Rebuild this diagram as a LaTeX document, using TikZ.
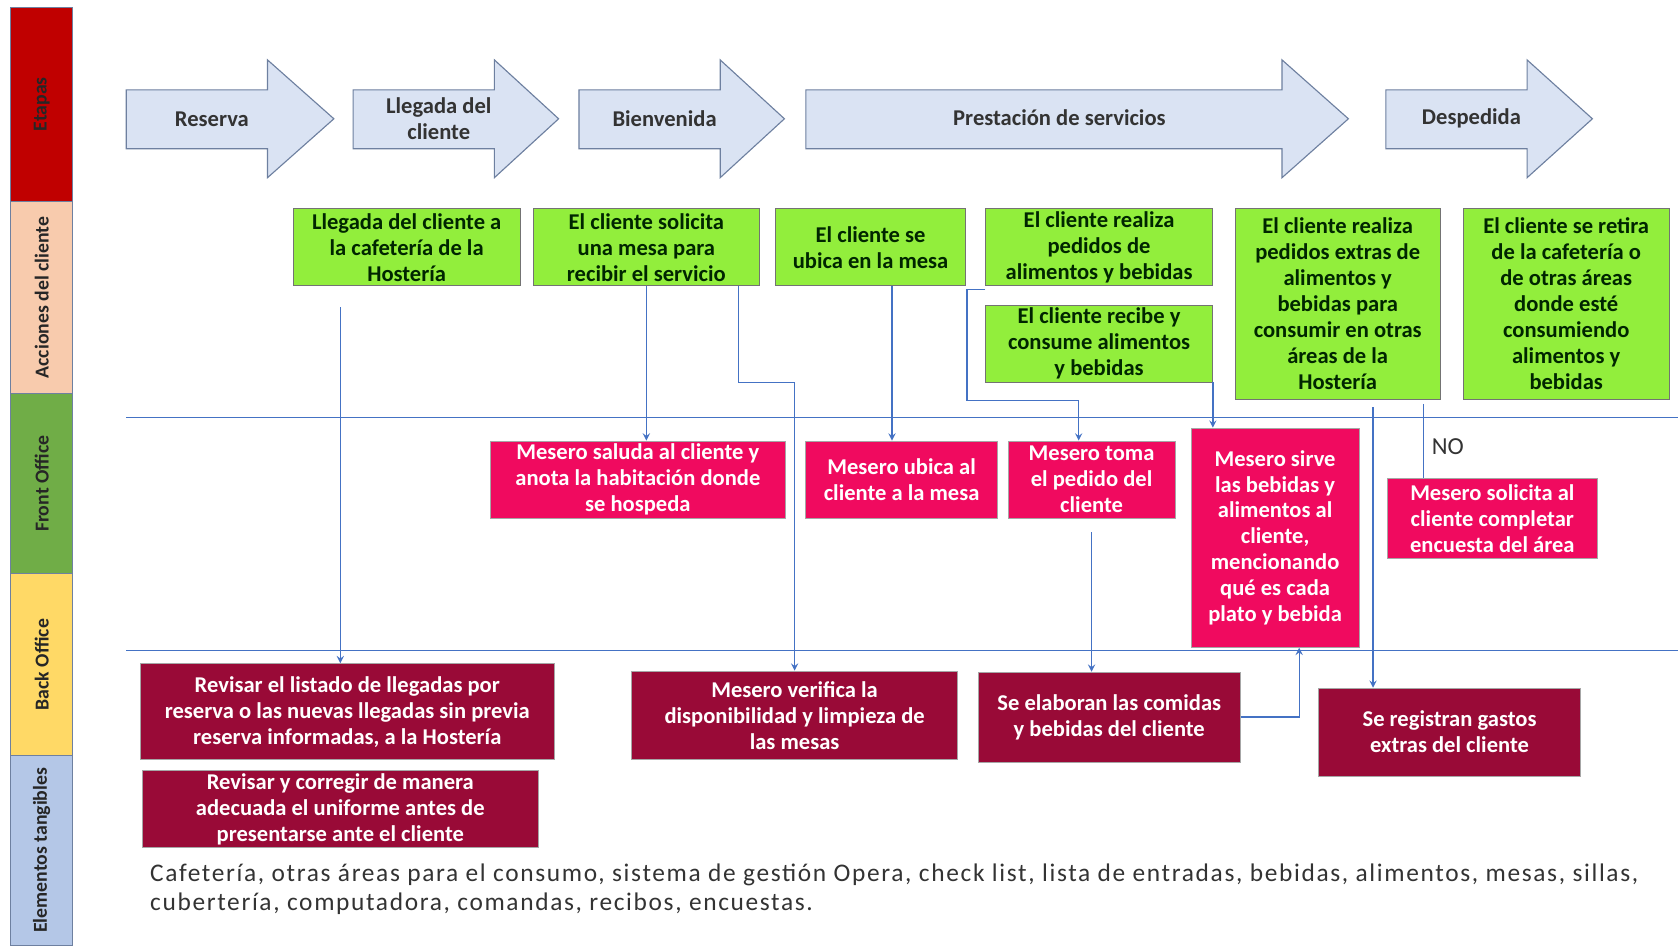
\documentclass[tikz,border=0pt]{standalone}
\usepackage{fontspec}
\setmainfont{Carlito}
\newfontfamily\tangfont[LetterSpace=6.5]{Carlito}
\usetikzlibrary{calc,arrows}
\definecolor{rojoetapa}{RGB}{192,0,0}
\definecolor{durazno}{RGB}{248,203,173}
\definecolor{verdefront}{RGB}{112,173,71}
\definecolor{amarilloback}{RGB}{255,217,102}
\definecolor{azultang}{RGB}{180,199,231}
\definecolor{stagefill}{RGB}{218,227,243}
\definecolor{stageline}{RGB}{110,128,160}
\definecolor{verde}{RGB}{146,238,60}
\definecolor{rosa}{RGB}{240,10,95}
\definecolor{vino}{RGB}{153,10,55}
\definecolor{flecha}{RGB}{68,114,196}

\begin{document}
\begin{tikzpicture}[x=0.2mm,y=-0.2mm,
          lane/.style={rotate=90,draw=stageline,minimum height=11.6mm,inner sep=0pt,text=black!85,font=\fontsize{10.5}{12}\selectfont\bfseries},
          stage/.style={draw=stageline,fill=stagefill,line width=0.6pt},
          stagetxt/.style={align=center,inner sep=0pt,text=black!80,font=\fontsize{12}{13.8}\selectfont\bfseries},
          cliente/.style={draw=black!55,fill=verde,align=center,inner sep=0pt,text=black!85!green,font=\fontsize{12}{13.8}\selectfont\bfseries},
          front/.style={draw=black!35,fill=rosa,align=center,inner sep=0pt,text=white,font=\fontsize{12}{13.8}\selectfont\bfseries},
          back/.style={draw=black!35,fill=vino,align=center,inner sep=0pt,text=white,font=\fontsize{12}{13.8}\selectfont\bfseries},
          flow/.style={draw=flecha,line width=0.7pt,-stealth},
          link/.style={draw=flecha,line width=0.7pt}]
          \fill[white] (0,0) rectangle (1568,884);
          \path[use as bounding box] (0,0) rectangle (1568,884);

          \node[lane,fill=rojoetapa,minimum width=36.2mm] (etapas) at (39,97.5) {Etapas};
          \node[lane,fill=durazno,minimum width=36mm] (acciones) at (39,278) {Acciones del cliente};
          \node[lane,fill=verdefront,minimum width=33.6mm] (frontoffice) at (39,452) {Front Office};
          \node[lane,fill=amarilloback,minimum width=34mm] (backoffice) at (39,621) {Back Office};
          \node[lane,fill=azultang,minimum width=35.4mm] (elementos) at (39,794.5) {Elementos tangibles};

          \draw[link] (118,390) -- (1568,390);
          \draw[link] (118,608) -- (1568,608);

          \draw[stage] (118,84) -- (250,84) -- (250,56) -- (312,111) -- (250,166) -- (250,139) -- (118,139) -- cycle;
          \node[stagetxt] (reserva) at (198,111) {Reserva};
          \draw[stage] (330,84) -- (462,84) -- (462,56) -- (522,111) -- (462,166) -- (462,139) -- (330,139) -- cycle;
          \node[stagetxt] (llegada) at (410,111) {Llegada del\\cliente};
          \draw[stage] (541,84) -- (673,84) -- (673,56) -- (733,111) -- (673,166) -- (673,139) -- (541,139) -- cycle;
          \node[stagetxt] (bienvenida) at (621,111) {Bienvenida};
          \draw[stage] (753,84) -- (1198,84) -- (1198,56) -- (1260,111) -- (1198,166) -- (1198,139) -- (753,139) -- cycle;
          \node[stagetxt] (prestacion) at (990,110) {Prestación de servicios};
          \draw[stage] (1295,84) -- (1427,84) -- (1427,56) -- (1488,111) -- (1427,166) -- (1427,139) -- (1295,139) -- cycle;
          \node[stagetxt] (despedida) at (1375,111) {Despedida};

          \node[cliente,minimum width=42.4mm,minimum height=14.4mm] (llegacafe) at (380,231) {Llegada del cliente a\\la cafetería de la\\Hostería};
          \node[cliente,minimum width=42.4mm,minimum height=14.4mm] (solicita) at (604,231) {El cliente solicita\\una mesa para\\recibir el servicio};
          \node[cliente,minimum width=35.4mm,minimum height=14.4mm] (ubica) at (813.5,231) {El cliente se\\ubica en la mesa};
          \node[cliente,minimum width=42.4mm,minimum height=14.4mm] (pedidos) at (1027,231) {El cliente realiza\\pedidos de\\alimentos y bebidas};
          \node[cliente,minimum width=42.4mm,minimum height=14.4mm] (consume) at (1027,321) {El cliente recibe y\\consume alimentos\\y bebidas};
          \node[cliente,minimum width=38.4mm,minimum height=35.6mm] (extras) at (1250,284) {El cliente realiza\\pedidos extras de\\alimentos y\\bebidas para\\consumir en otras\\áreas de la\\Hostería};
          \node[cliente,minimum width=38.6mm,minimum height=35.6mm] (retira) at (1463.5,284) {El cliente se retira\\de la cafetería o\\de otras áreas\\donde esté\\consumiendo\\alimentos y\\bebidas};

          \node[front,minimum width=55.2mm,minimum height=14.4mm] (saluda) at (596,448) {Mesero saluda al cliente y\\anota la habitación donde\\se hospeda};
          \node[front,minimum width=35.8mm,minimum height=14.4mm] (ubicamesa) at (842.5,448) {Mesero ubica al\\cliente a la mesa};
          \node[front,minimum width=31.2mm,minimum height=14.4mm] (toma) at (1020,448) {Mesero toma\\el pedido del\\cliente};
          \node[front,minimum width=31.4mm,minimum height=41mm] (sirve) at (1191.5,502.5) {Mesero sirve\\las bebidas y\\alimentos al\\cliente,\\mencionando\\qué es cada\\plato y bebida};
          \node[front,minimum width=39.4mm,minimum height=15mm] (encuesta) at (1394.5,484.5) {Mesero solicita al\\cliente completar\\encuesta del área};

          \node[back,minimum width=77.4mm,minimum height=18mm] (listado) at (324.5,665) {Revisar el listado de llegadas por\\reserva o las nuevas llegadas sin previa\\reserva informadas, a la Hostería};
          \node[back,minimum width=74mm,minimum height=14.4mm] (uniforme) at (318,756) {Revisar y corregir de manera\\adecuada el uniforme antes de\\presentarse ante el cliente};
          \node[back,minimum width=61mm,minimum height=16.6mm] (verifica) at (742.5,668.5) {Mesero verifica la\\disponibilidad y limpieza de\\las mesas};
          \node[back,minimum width=49mm,minimum height=16.8mm] (elaboran) at (1036.5,670) {Se elaboran las comidas\\y bebidas del cliente};
          \node[back,minimum width=49mm,minimum height=16.4mm] (registran) at (1354.5,684) {Se registran gastos\\extras del cliente};

          \node[anchor=west,align=left,inner sep=0pt,text=black!80,font=\fontsize{13.5}{15.3}\tangfont] (tangibles) at (140,831) {Cafetería, otras áreas para el consumo, sistema de gestión Opera, check list, lista de entradas, bebidas, alimentos, mesas, sillas,\\cubertería, computadora, comandas, recibos, encuestas.};
          \node[inner sep=0pt,text=black!80,font=\fontsize{13}{15}\selectfont] (no) at (1353,417) {NO};

          \coordinate (inicio) at (318,287);
          \draw[flow] (inicio) -- (inicio |- listado.north);
          \draw[flow] (solicita.south) -- (solicita.south |- saluda.north);
          \draw[flow] ([xshift=-4mm]solicita.south east) -- ++(0,90) -| (verifica.north);
          \draw[flow] ([xshift=4mm]ubica.south) -- ([xshift=4mm]ubica.south |- ubicamesa.north);
          \draw[flow] ([yshift=-0.6mm]pedidos.south west) -- ++(-17,0) -- ++(0,104) -| ([xshift=-2.4mm]toma.north);
          \draw[flow] (consume.south east) -- (consume.south east |- sirve.north);
          \draw[flow] ([xshift=6.6mm,yshift=-1.4mm]extras.south) -- ([xshift=6.6mm]extras.south |- registran.north);
          \draw[link] ([xshift=-3.2mm,yshift=-0.8mm]extras.south east) -- ([xshift=-3.2mm]extras.south east |- encuesta.north);
          \draw[flow] ([yshift=-2.6mm]toma.south) -- (toma.south |- elaboran.north);
          \draw[flow] (elaboran.east) -| ([xshift=4.5mm]sirve.south);
        \end{tikzpicture}
\end{document}
